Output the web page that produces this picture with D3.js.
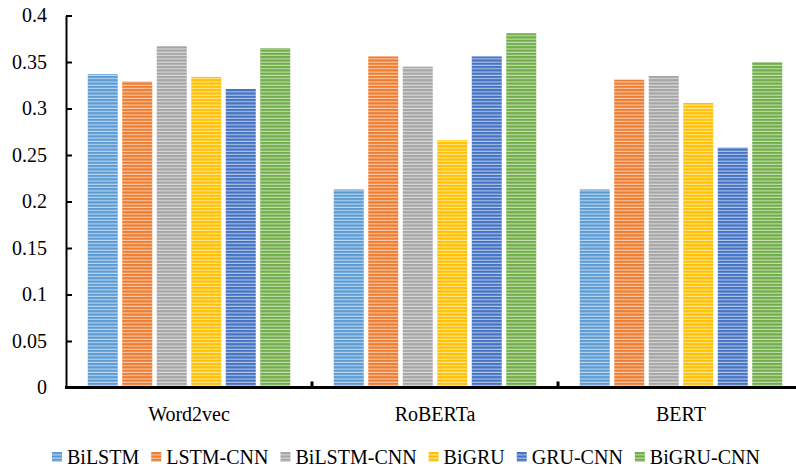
<!DOCTYPE html>
<html>
<head>
<meta charset="utf-8">
<script src="https://cdn.jsdelivr.net/npm/d3@7/dist/d3.min.js"></script>
<style>
  html, body { margin: 0; padding: 0; background: #fff; }
  svg { display: block; }
  svg text { font-family: "Liberation Serif", "Times New Roman", serif !important; }
</style>
</head>
<body>
<svg id="chart" width="796" height="468"></svg>
<script>
const categories = ["Word2vec", "RoBERTa", "BERT"];
const series = ["BiLSTM", "LSTM-CNN", "BiLSTM-CNN", "BiGRU", "GRU-CNN", "BiGRU-CNN"];
const BiLSTM     = [0.337, 0.213, 0.213];
const LSTM_CNN   = [0.329, 0.356, 0.331];
const BiLSTM_CNN = [0.367, 0.345, 0.335];
const BiGRU      = [0.334, 0.266, 0.306];
const GRU_CNN    = [0.321, 0.356, 0.258];
const BiGRU_CNN  = [0.365, 0.381, 0.350];
const yTicks = [0, 0.05, 0.1, 0.15, 0.2, 0.25, 0.3, 0.35, 0.4];
const yTickLabels = ["0", "0.05", "0.1", "0.15", "0.2", "0.25", "0.3", "0.35", "0.4"];
const colors = ["#5B9BD5", "#ED7D31", "#A5A5A5", "#FFC000", "#4472C4", "#70AD47"];

const values = [BiLSTM, LSTM_CNN, BiLSTM_CNN, BiGRU, GRU_CNN, BiGRU_CNN];

const svg = d3.select("#chart");
const left = 66, plotTop = 15.5, plotBottom = 387.5, catWidth = 246;
const FONT = '"Liberation Serif", "Times New Roman", serif';

const x0 = d3.scaleBand().domain(categories).range([left, left + catWidth * categories.length]).padding(0);
const x1 = d3.scaleBand().domain(series).range([0, x0.bandwidth()]).paddingInner(0.13).paddingOuter(0.63);
const y = d3.scaleLinear().domain([0, 0.4]).range([plotBottom, plotTop]);

// stripe patterns
const defs = svg.append("defs");
colors.forEach((c, i) => {
  const p = defs.append("pattern").attr("id", "pat" + i)
    .attr("patternUnits", "userSpaceOnUse").attr("width", 8).attr("height", 3.3);
  p.append("rect").attr("width", 8).attr("height", 3.3).attr("fill", c);
  p.append("rect").attr("y", 2.2).attr("width", 8).attr("height", 1.1)
    .attr("fill", d3.interpolateRgb(c, "#ffffff")(0.6));
});

// bars
const g = svg.append("g");
categories.forEach((cat, ci) => {
  series.forEach((s, si) => {
    const v = values[si][ci];
    g.append("rect")
      .attr("x", x0(cat) + x1(s))
      .attr("y", y(v))
      .attr("width", x1.bandwidth())
      .attr("height", y(0) - y(v))
      .attr("fill", "url(#pat" + si + ")");
  });
});

// y axis
const yAxis = d3.axisLeft(y).tickValues(yTicks).tickFormat((d, i) => yTickLabels[i]).tickSizeInner(-6).tickSizeOuter(0).tickPadding(19);
const ya = svg.append("g").attr("transform", `translate(${left},0)`).call(yAxis);
ya.attr("font-family", null).attr("font-size", null);
ya.select(".domain").attr("stroke", "#000").attr("stroke-width", 2);
ya.selectAll(".tick line").attr("stroke", "#000").attr("stroke-width", 2);
ya.selectAll(".tick text").style("font-size", "20px").style("font-family", FONT).attr("fill", "#000");

// x axis
const boundaries = [left, left + catWidth, left + 2 * catWidth];
svg.append("line").attr("x1", left - 1).attr("x2", 796).attr("y1", y(0)).attr("y2", y(0))
  .attr("stroke", "#000").attr("stroke-width", 3);
boundaries.slice(1).forEach(bx => {
  svg.append("line").attr("x1", bx).attr("x2", bx).attr("y1", y(0)).attr("y2", y(0) - 6)
    .attr("stroke", "#000").attr("stroke-width", 3);
});
categories.forEach(cat => {
  svg.append("text").attr("x", x0(cat) + x0.bandwidth() / 2).attr("y", 421)
    .attr("text-anchor", "middle").style("font-size", "20px").style("font-family", FONT).attr("fill", "#000").text(cat);
});

// legend
const lg = svg.append("g");
let lx = 52;
series.forEach((s, si) => {
  lg.append("rect").attr("x", lx).attr("y", 452).attr("width", 10).attr("height", 10)
    .attr("fill", "url(#pat" + si + ")");
  const t = lg.append("text").attr("x", lx + 15).attr("y", 464).style("font-size", "20px").style("font-family", FONT).attr("fill", "#000").text(s);
  lx += 15 + t.node().getComputedTextLength() + 12;
});
</script>
</body>
</html>
